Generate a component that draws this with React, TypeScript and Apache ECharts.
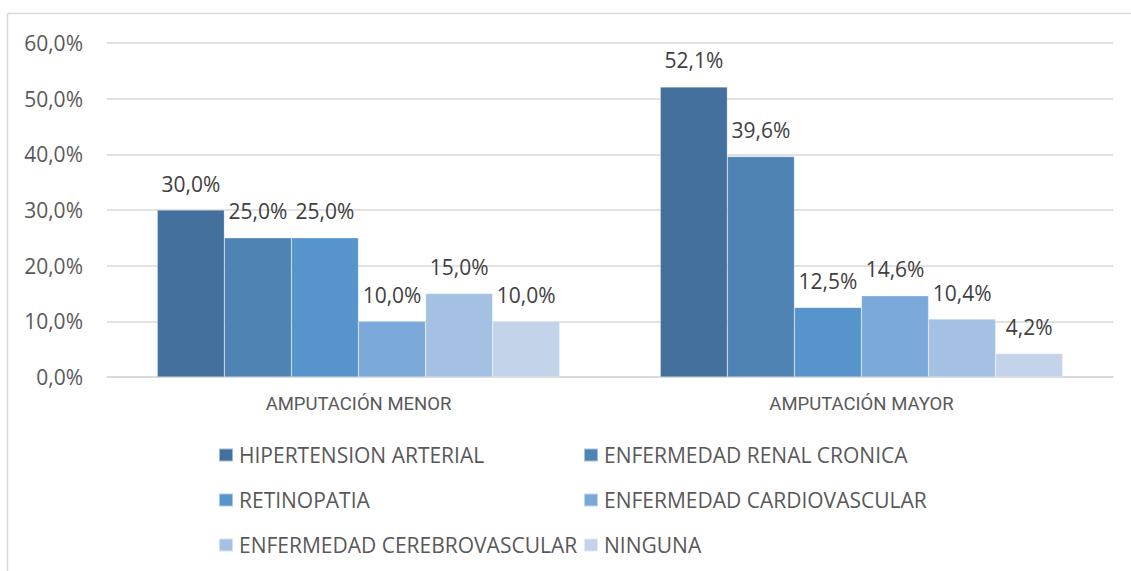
import React, { useEffect, useRef } from "react";
import * as echarts from "echarts";

const categories = ["AMPUTACIÓN MENOR", "AMPUTACIÓN MAYOR"];
const seriesNames = [
  "HIPERTENSION ARTERIAL",
  "ENFERMEDAD RENAL CRONICA",
  "RETINOPATIA",
  "ENFERMEDAD CARDIOVASCULAR",
  "ENFERMEDAD CEREBROVASCULAR",
  "NINGUNA",
];
const hipertension = [30.0, 52.1];
const renal = [25.0, 39.6];
const retinopatia = [25.0, 12.5];
const cardiovascular = [10.0, 14.6];
const cerebrovascular = [15.0, 10.4];
const ninguna = [10.0, 4.2];
const seriesValues = [hipertension, renal, retinopatia, cardiovascular, cerebrovascular, ninguna];
const colors = ["#44709d", "#4e83b4", "#5694cb", "#7aa8d8", "#a4c0e3", "#c3d4ea"];

const fmt = (v: number) => v.toFixed(1).replace(".", ",") + "%";

export default function App() {
  const ref = useRef<HTMLDivElement>(null);
  useEffect(() => {
    if (!ref.current) return;
    const chart = echarts.init(ref.current, undefined, { renderer: "svg" });
    const font = "'Open Sans', sans-serif";
    const legendText = { color: "#595959", fontFamily: font, fontSize: 21, lineHeight: 22, padding: [0, 0, 0, 1] };
    chart.setOption({
      animation: false,
      backgroundColor: "#ffffff",
      grid: { left: 107, right: 18, top: 43, bottom: 194, containLabel: false },
      xAxis: {
        type: "category",
        data: categories,
        axisLine: { lineStyle: { color: "#d9d9d9", width: 1.5 } },
        axisTick: { show: false },
        axisLabel: {
          margin: 17,
          color: "#595959",
          fontFamily: "Roboto, sans-serif",
          fontSize: 18.5,
        },
      },
      yAxis: {
        type: "value",
        min: 0,
        max: 60,
        interval: 10,
        axisLine: { show: false },
        axisTick: { show: false },
        splitLine: { lineStyle: { color: "#d9d9d9", width: 1.5 } },
        axisLabel: {
          margin: 24,
          color: "#595959",
          fontFamily: font,
          fontSize: 21,
          formatter: (v: number) => fmt(v),
        },
      },
      legend: [
        {
          orient: "vertical",
          left: 213,
          top: 439,
          itemWidth: 14,
          itemHeight: 13,
          itemGap: 23,
          icon: "rect",
          data: [seriesNames[0], seriesNames[2], seriesNames[4]],
          textStyle: legendText,
        },
        {
          orient: "vertical",
          left: 578,
          top: 439,
          itemWidth: 14,
          itemHeight: 13,
          itemGap: 23,
          icon: "rect",
          data: [seriesNames[1], seriesNames[3], seriesNames[5]],
          textStyle: legendText,
        },
      ],
      graphic: [
        { type: "line", shape: { x1: 7.5, y1: 13.5, x2: 1131, y2: 13.5 }, style: { stroke: "#d9d9d9", lineWidth: 1.5 } },
        { type: "line", shape: { x1: 7.5, y1: 13.5, x2: 7.5, y2: 571 }, style: { stroke: "#d9d9d9", lineWidth: 1.5 } },
      ],
      series: seriesNames.map((name, i) => ({
        name,
        type: "bar",
        data: seriesValues[i],
        barGap: "0%",
        barCategoryGap: "20%",
        itemStyle: { color: colors[i], borderColor: "rgba(255,255,255,0.5)", borderWidth: 0.5 },
        label: {
          show: true,
          position: "top",
          distance: 16,
          color: "#404040",
          fontFamily: font,
          fontSize: 21,
          formatter: (p: any) => fmt(p.value),
        },
      })),
    });
    return () => chart.dispose();
  }, []);
  return (
    <div
      ref={ref}
      style={{ position: "fixed", left: 0, top: 0, width: 1131, height: 571 }}
    />
  );
}
